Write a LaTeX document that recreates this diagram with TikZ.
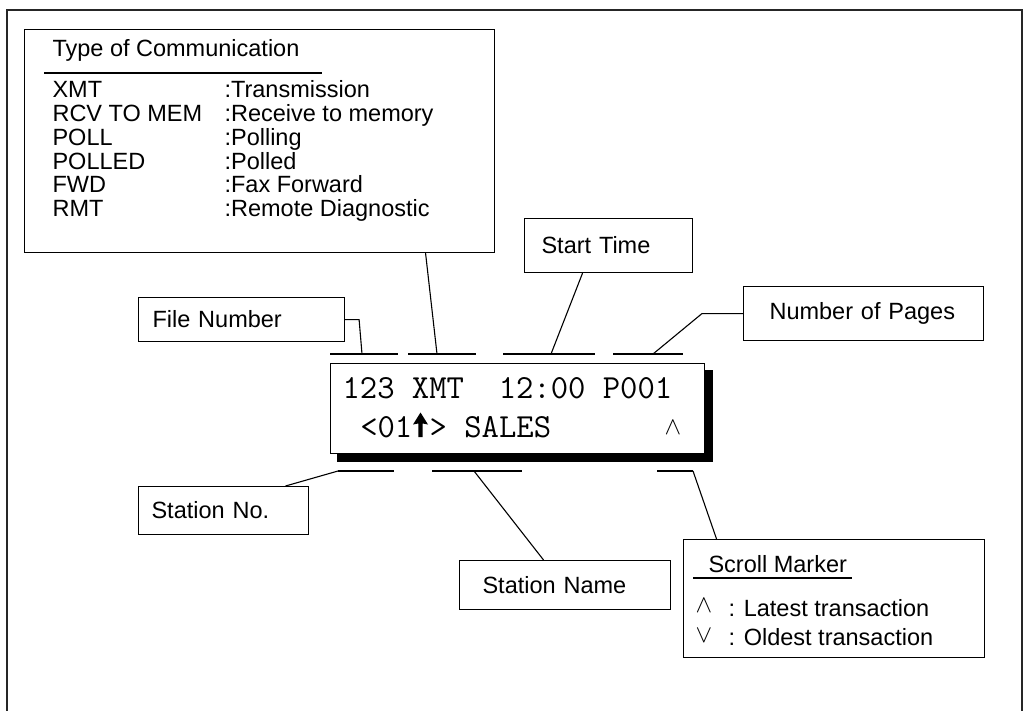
\documentclass[tikz,border=0pt]{standalone}
\usepackage{fontspec}
\setmainfont{Liberation Sans}
\usepackage{tikz}
\newcommand{\lab}{\fontsize{23.5}{28}\selectfont}
\newcommand{\lcdfont}{\fontsize{33.7}{38}\selectfont\ttfamily}

\begin{document}
\begin{tikzpicture}[x=1pt,y=-1pt,line width=1.1pt,
  tag/.style={draw,anchor=north west,font=\lab,align=left,inner ysep=0pt},
  frame/.style={draw,anchor=north west,inner sep=0pt},
  txt/.style={anchor=base west,font=\lab,inner sep=0pt},
  lcdtxt/.style={anchor=base west,font=\lcdfont,inner sep=0pt}]
  \useasboundingbox (0,0) rectangle (1024,711);
  % outer frame, open at the bottom
  \draw[black!85] (7,711) -- (7,10) -- (1022,10) -- (1022,711);

  % type of communication
  \node[frame,minimum width=470pt,minimum height=223pt] (typebox) at (24,29) {};
  \node[txt] (typetitle) at (52,57) {Type of Communication};
  \draw (44,73) -- (322,73);
  \foreach \code/\desc [count=\i] in {XMT/:Transmission,RCV TO MEM/:Receive to memory,
      POLL/:Polling,POLLED/:Polled,FWD/:Fax Forward,RMT/:Remote Diagnostic}{
    \node[txt] (code\i) at (52,74+23.8*\i) {\code};
    \node[txt] (desc\i) at (224,74+23.8*\i) {\desc};
  }

  % label boxes
  \node[tag,minimum height=44pt,inner xsep=14pt,text width=178pt] (filenum) at (138,297) {File Number};
  \node[tag,minimum height=54pt,inner xsep=17pt,text width=134pt] (starttime) at (524,218) {Start Time};
  \node[tag,minimum height=54pt,inner xsep=26pt,text width=188pt] (pages) at (743,286) {Number of Pages};
  \node[tag,minimum height=48pt,inner xsep=13pt,text width=144pt] (stationno) at (138,486) {Station No.};
  \node[tag,minimum height=49pt,inner xsep=23pt,text width=165pt] (stationname) at (459,560) {Station Name};
  \node[frame,minimum width=301pt,minimum height=118pt] (scrollbox) at (683,539) {};

  % scroll marker key
  \node[txt] (scrolltitle) at (708,572) {Scroll Marker};
  \draw (693,578) -- (852,578);
  \node[font=\fontsize{23}{23}\selectfont,inner sep=0pt] (upmark) at (704,606) {$\wedge$};
  \node[txt] (latest) at (728,616) {: Latest transaction};
  \node[font=\fontsize{23}{23}\selectfont,inner sep=0pt] (downmark) at (704,636) {$\vee$};
  \node[txt] (oldest) at (728,645) {: Oldest transaction};

  % display with its shadow
  \fill (337,370) rectangle (713,462);
  \node[frame,fill=white,minimum width=374pt,minimum height=90pt,line width=1.3pt] (lcd) at (330,363) {};
  \node[lcdtxt] (row1) at (342,398) {123 XMT\ \ 12:00 P001};
  \node[lcdtxt] (row2) at (359.7,437) {<01\ > SALES};
  \node[font=\fontsize{30}{30}\selectfont,inner sep=0pt] (lcdmark) at (673,428) {$\wedge$};
  \fill (420.5,412.5) -- (428,424.5) -- (422.7,423.5) -- (422.7,437) -- (418.3,437)
    -- (418.3,423.5) -- (413,424.5) -- cycle;

  % field marks over and under the display
  \foreach \a/\b in {330/398,408/476,503/595,613/683}
    \draw (\a,354) -- (\b,354);
  \foreach \a/\b in {338/394,432/522,657/693}
    \draw (\a,471) -- (\b,471);
  \coordinate (fnJ) at (362,354);
  \coordinate (typeJ) at (437,354);
  \coordinate (timeJ) at (551,354);
  \coordinate (pageJ) at (653,354);
  \coordinate (stnoJ) at (338,471);
  \coordinate (stnameJ) at (474,471);
  \coordinate (scrollJ) at (693,471);

  % leaders
  \draw (filenum.east) -- ++(14,0) -- (fnJ);
  \draw ([xshift=166pt]typebox.south) -- (typeJ);
  \draw ([xshift=-26pt]starttime.south) -- (timeJ);
  \draw (pages.west) -- ++(-41,0) -- (pageJ);
  \draw (stnoJ) -- ([xshift=62pt]stationno.north);
  \draw (stnameJ) -- ([xshift=-21.5pt]stationname.north);
  \draw (scrollJ) -- ([xshift=-117.5pt]scrollbox.north);
\end{tikzpicture}
\end{document}
